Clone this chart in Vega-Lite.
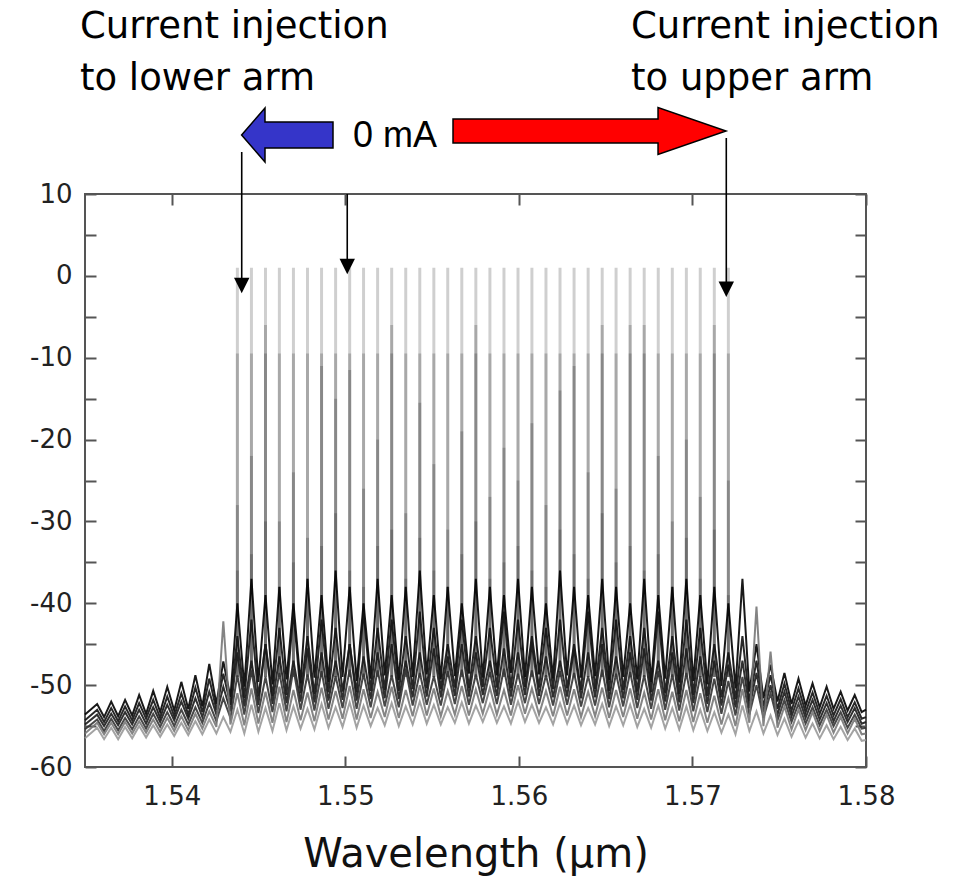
{
"$schema": "https://vega.github.io/schema/vega-lite/v6.json",
"width": 781, "height": 573,
"autosize": {"type": "none"},
"padding": {"left": 85, "top": 194, "right": 95, "bottom": 115},
"background": "white",
"config": {"view": {"stroke": "#555", "strokeWidth": 2}, "font": "DejaVu Sans"},
"resolve": {"axis": {"x": "independent", "y": "independent"}},
"datasets": {
"tall": [
{"w":1.54378,"t1":1,"t2":-9.5,"t3":-28,"t4":-36},
{"w":1.54459,"t1":1,"t2":-9.5,"t3":-22,"t4":-34},
{"w":1.5454,"t1":1,"t2":-9.5,"t3":-6,"t4":-30},
{"w":1.5462,"t1":1,"t2":-9.5,"t3":-30,"t4":-38},
{"w":1.54701,"t1":1,"t2":-9.5,"t3":-24,"t4":-35},
{"w":1.54782,"t1":1,"t2":-9.5,"t3":-32,"t4":-37},
{"w":1.54863,"t1":1,"t2":-9.5,"t3":-11,"t4":-33},
{"w":1.54944,"t1":1,"t2":-9.5,"t3":-15,"t4":-29},
{"w":1.55025,"t1":1,"t2":-9.5,"t3":-11.5,"t4":-36},
{"w":1.55105,"t1":1,"t2":-9.5,"t3":-26,"t4":-38},
{"w":1.55186,"t1":1,"t2":-9.5,"t3":-20,"t4":-33},
{"w":1.55267,"t1":1,"t2":-9.5,"t3":-6,"t4":-31},
{"w":1.55348,"t1":1,"t2":-9.5,"t3":-29,"t4":-37},
{"w":1.55429,"t1":1,"t2":-9.5,"t3":-15.5,"t4":-32},
{"w":1.5551,"t1":1,"t2":-9.5,"t3":-23,"t4":-36},
{"w":1.5559,"t1":1,"t2":-9.5,"t3":-31,"t4":-38},
{"w":1.55671,"t1":1,"t2":-9.5,"t3":-19,"t4":-34},
{"w":1.55752,"t1":1,"t2":-9.5,"t3":-6,"t4":-30},
{"w":1.55833,"t1":1,"t2":-9.5,"t3":-27,"t4":-37},
{"w":1.55914,"t1":1,"t2":-9.5,"t3":-21,"t4":-35},
{"w":1.55995,"t1":1,"t2":-9.5,"t3":-25,"t4":-33},
{"w":1.56075,"t1":1,"t2":-9.5,"t3":-18,"t4":-36},
{"w":1.56156,"t1":1,"t2":-9.5,"t3":-28,"t4":-38},
{"w":1.56237,"t1":1,"t2":-9.5,"t3":-14,"t4":-31},
{"w":1.56318,"t1":1,"t2":-9.5,"t3":-11,"t4":-34},
{"w":1.56399,"t1":1,"t2":-9.5,"t3":-24,"t4":-37},
{"w":1.5648,"t1":1,"t2":-9.5,"t3":-6,"t4":-29},
{"w":1.5656,"t1":1,"t2":-9.5,"t3":-26,"t4":-35},
{"w":1.56641,"t1":1,"t2":-9.5,"t3":-6,"t4":-33},
{"w":1.56722,"t1":1,"t2":-9.5,"t3":-6,"t4":-36},
{"w":1.56803,"t1":1,"t2":-9.5,"t3":-22,"t4":-34},
{"w":1.56884,"t1":1,"t2":-9.5,"t3":-30,"t4":-38},
{"w":1.56965,"t1":1,"t2":-9.5,"t3":-20,"t4":-32},
{"w":1.57045,"t1":1,"t2":-9.5,"t3":-27,"t4":-37},
{"w":1.57126,"t1":1,"t2":-9.5,"t3":-6,"t4":-31},
{"w":1.57207,"t1":1,"t2":-9.5,"t3":-25,"t4":-39}
],
"spec": [
{"w":1.535,"a":-53.6,"b":-54.3,"c":-54.8,"d":-55.4,"e":-55.9,"f":-56.5},
{"w":1.5357,"a":-52.3,"b":-53.0,"c":-53.6,"d":-54.2,"e":-54.6,"f":-55.2},
{"w":1.5361,"a":-53.9,"b":-54.5,"c":-55.0,"d":-55.6,"e":-56.0,"f":-56.6},
{"w":1.53651,"a":-52.0,"b":-52.8,"c":-53.5,"d":-54.1,"e":-54.6,"f":-55.2},
{"w":1.53691,"a":-53.8,"b":-54.4,"c":-54.9,"d":-55.5,"e":-56.0,"f":-56.6},
{"w":1.53731,"a":-51.8,"b":-52.6,"c":-53.3,"d":-54.0,"e":-54.5,"f":-55.1},
{"w":1.53772,"a":-53.7,"b":-54.3,"c":-54.8,"d":-55.4,"e":-55.9,"f":-56.5},
{"w":1.53812,"a":-51.2,"b":-52.2,"c":-53.0,"d":-53.8,"e":-54.4,"f":-55.0},
{"w":1.53852,"a":-53.5,"b":-54.1,"c":-54.7,"d":-55.3,"e":-55.8,"f":-56.4},
{"w":1.53893,"a":-50.7,"b":-51.8,"c":-52.7,"d":-53.5,"e":-54.2,"f":-54.9},
{"w":1.53933,"a":-53.3,"b":-54.0,"c":-54.5,"d":-55.1,"e":-55.7,"f":-56.3},
{"w":1.53974,"a":-50.2,"b":-51.4,"c":-52.4,"d":-53.3,"e":-54.0,"f":-54.8},
{"w":1.54014,"a":-53.1,"b":-53.8,"c":-54.3,"d":-55.0,"e":-55.6,"f":-56.2},
{"w":1.54055,"a":-49.6,"b":-51.0,"c":-52.0,"d":-53.0,"e":-53.8,"f":-54.6},
{"w":1.54095,"a":-52.9,"b":-53.6,"c":-54.1,"d":-54.8,"e":-55.5,"f":-56.1},
{"w":1.54136,"a":-48.8,"b":-50.3,"c":-51.6,"d":-52.7,"e":-53.5,"f":-54.4},
{"w":1.54176,"a":-52.6,"b":-53.3,"c":-53.9,"d":-54.6,"e":-55.3,"f":-56.0},
{"w":1.54216,"a":-47.4,"b":-49.2,"c":-50.8,"d":-52.2,"e":-53.2,"f":-54.2},
{"w":1.54257,"a":-52.3,"b":-53.0,"c":-53.6,"d":-54.4,"e":-55.1,"f":-55.9},
{"w":1.54297,"a":-47.1,"b":-48.6,"c":-50.2,"d":-51.6,"e":-42.2,"f":-53.9},
{"w":1.54338,"a":-51.5,"b":-52.4,"c":-53.2,"d":-54.0,"e":-54.8,"f":-55.7},
{"w":1.54378,"a":-40,"b":-44,"c":-46,"d":-48.8,"e":-51.0,"f":-53.0},
{"w":1.54418,"a":-50.2,"b":-51.6,"c":-52.6,"d":-53.6,"e":-54.9,"f":-55.9},
{"w":1.54459,"a":-37,"b":-42,"c":-47,"d":-48.2,"e":-50.4,"f":-52.4},
{"w":1.54499,"a":-49.6,"b":-51.4,"c":-52.4,"d":-53.4,"e":-54.7,"f":-55.7},
{"w":1.5454,"a":-39,"b":-45,"c":-45,"d":-49.0,"e":-50.8,"f":-52.8},
{"w":1.5458,"a":-49.9,"b":-51.3,"c":-52.3,"d":-53.3,"e":-54.6,"f":-55.6},
{"w":1.5462,"a":-38,"b":-43,"c":-46.5,"d":-48.5,"e":-50.2,"f":-52.2},
{"w":1.54661,"a":-49.3,"b":-51.2,"c":-52.2,"d":-53.2,"e":-54.5,"f":-55.5},
{"w":1.54701,"a":-40,"b":-41,"c":-47,"d":-48.0,"e":-50.6,"f":-52.6},
{"w":1.54742,"a":-49.8,"b":-51.0,"c":-52.0,"d":-53.0,"e":-54.3,"f":-55.3},
{"w":1.54782,"a":-37,"b":-44,"c":-45.5,"d":-48.7,"e":-50.9,"f":-52.9},
{"w":1.54822,"a":-49.1,"b":-51.1,"c":-52.1,"d":-53.1,"e":-54.4,"f":-55.4},
{"w":1.54863,"a":-39,"b":-42,"c":-46,"d":-48.3,"e":-50.3,"f":-52.3},
{"w":1.54903,"a":-49.6,"b":-50.9,"c":-51.9,"d":-52.9,"e":-54.2,"f":-55.2},
{"w":1.54944,"a":-36,"b":-43,"c":-47,"d":-48.9,"e":-50.7,"f":-52.7},
{"w":1.54984,"a":-49.0,"b":-50.8,"c":-51.8,"d":-52.8,"e":-54.1,"f":-55.1},
{"w":1.55025,"a":-38,"b":-45,"c":-45,"d":-48.1,"e":-50.1,"f":-52.1},
{"w":1.55065,"a":-49.5,"b":-50.9,"c":-51.9,"d":-52.9,"e":-54.2,"f":-55.2},
{"w":1.55105,"a":-40,"b":-41,"c":-46.5,"d":-48.6,"e":-50.5,"f":-52.5},
{"w":1.55146,"a":-49.2,"b":-50.7,"c":-51.7,"d":-52.7,"e":-54.0,"f":-55.0},
{"w":1.55186,"a":-37,"b":-43,"c":-46,"d":-48.2,"e":-50.8,"f":-52.8},
{"w":1.55227,"a":-48.8,"b":-50.6,"c":-51.6,"d":-52.6,"e":-53.9,"f":-54.9},
{"w":1.55267,"a":-39,"b":-42,"c":-45,"d":-48.8,"e":-50.2,"f":-52.2},
{"w":1.55308,"a":-49.4,"b":-50.7,"c":-51.7,"d":-52.7,"e":-54.0,"f":-55.0},
{"w":1.55348,"a":-38,"b":-44,"c":-47,"d":-48.0,"e":-50.6,"f":-52.6},
{"w":1.55388,"a":-49.0,"b":-50.5,"c":-51.5,"d":-52.5,"e":-53.8,"f":-54.8},
{"w":1.55429,"a":-36,"b":-41,"c":-46,"d":-48.5,"e":-50.0,"f":-52.0},
{"w":1.55469,"a":-48.7,"b":-50.4,"c":-51.4,"d":-52.4,"e":-53.7,"f":-54.7},
{"w":1.5551,"a":-39,"b":-43,"c":-45.5,"d":-48.9,"e":-50.4,"f":-52.4},
{"w":1.5555,"a":-49.3,"b":-50.5,"c":-51.5,"d":-52.5,"e":-53.8,"f":-54.8},
{"w":1.5559,"a":-38,"b":-45,"c":-46.5,"d":-48.3,"e":-50.7,"f":-52.7},
{"w":1.55631,"a":-48.9,"b":-50.3,"c":-51.3,"d":-52.3,"e":-53.6,"f":-54.6},
{"w":1.55671,"a":-40,"b":-42,"c":-45,"d":-48.1,"e":-50.1,"f":-52.1},
{"w":1.55712,"a":-48.6,"b":-50.4,"c":-51.4,"d":-52.4,"e":-53.7,"f":-54.7},
{"w":1.55752,"a":-37,"b":-44,"c":-46,"d":-48.7,"e":-50.5,"f":-52.5},
{"w":1.55792,"a":-49.1,"b":-50.2,"c":-51.2,"d":-52.2,"e":-53.5,"f":-54.5},
{"w":1.55833,"a":-38,"b":-43,"c":-47,"d":-48.4,"e":-50.3,"f":-52.3},
{"w":1.55873,"a":-48.8,"b":-50.3,"c":-51.3,"d":-52.3,"e":-53.6,"f":-54.6},
{"w":1.55914,"a":-39,"b":-41,"c":-45.5,"d":-48.0,"e":-50.6,"f":-52.6},
{"w":1.55954,"a":-48.5,"b":-50.4,"c":-51.4,"d":-52.4,"e":-53.7,"f":-54.7},
{"w":1.55995,"a":-37,"b":-42,"c":-46,"d":-48.6,"e":-50.0,"f":-52.0},
{"w":1.56035,"a":-49.0,"b":-50.2,"c":-51.2,"d":-52.2,"e":-53.5,"f":-54.5},
{"w":1.56075,"a":-38,"b":-44,"c":-45,"d":-48.2,"e":-50.4,"f":-52.4},
{"w":1.56116,"a":-48.7,"b":-50.3,"c":-51.3,"d":-52.3,"e":-53.6,"f":-54.6},
{"w":1.56156,"a":-40,"b":-43,"c":-46.5,"d":-48.8,"e":-50.7,"f":-52.7},
{"w":1.56197,"a":-49.2,"b":-50.5,"c":-51.5,"d":-52.5,"e":-53.8,"f":-54.8},
{"w":1.56237,"a":-36,"b":-42,"c":-47,"d":-48.3,"e":-50.2,"f":-52.2},
{"w":1.56278,"a":-48.8,"b":-50.4,"c":-51.4,"d":-52.4,"e":-53.7,"f":-54.7},
{"w":1.56318,"a":-38,"b":-45,"c":-45.5,"d":-48.5,"e":-50.5,"f":-52.5},
{"w":1.56358,"a":-49.1,"b":-50.6,"c":-51.6,"d":-52.6,"e":-53.9,"f":-54.9},
{"w":1.56399,"a":-39,"b":-41,"c":-46,"d":-48.9,"e":-50.8,"f":-52.8},
{"w":1.56439,"a":-48.9,"b":-50.5,"c":-51.5,"d":-52.5,"e":-53.8,"f":-54.8},
{"w":1.5648,"a":-37,"b":-43,"c":-45,"d":-48.1,"e":-50.3,"f":-52.3},
{"w":1.5652,"a":-49.4,"b":-50.7,"c":-51.7,"d":-52.7,"e":-54.0,"f":-55.0},
{"w":1.5656,"a":-38,"b":-42,"c":-46.5,"d":-48.6,"e":-50.6,"f":-52.6},
{"w":1.56601,"a":-49.0,"b":-50.6,"c":-51.6,"d":-52.6,"e":-53.9,"f":-54.9},
{"w":1.56641,"a":-40,"b":-44,"c":-46,"d":-48.4,"e":-50.4,"f":-52.4},
{"w":1.56682,"a":-49.3,"b":-50.8,"c":-51.8,"d":-52.8,"e":-54.1,"f":-55.1},
{"w":1.56722,"a":-37,"b":-43,"c":-45.5,"d":-48.8,"e":-50.9,"f":-52.9},
{"w":1.56762,"a":-49.6,"b":-50.9,"c":-51.9,"d":-52.9,"e":-54.2,"f":-55.2},
{"w":1.56803,"a":-39,"b":-41,"c":-47,"d":-48.3,"e":-50.5,"f":-52.5},
{"w":1.56843,"a":-49.2,"b":-51.0,"c":-52.0,"d":-53.0,"e":-54.3,"f":-55.3},
{"w":1.56884,"a":-38,"b":-44,"c":-46,"d":-48.7,"e":-50.8,"f":-52.8},
{"w":1.56924,"a":-49.7,"b":-51.1,"c":-52.1,"d":-53.1,"e":-54.4,"f":-55.4},
{"w":1.56965,"a":-37,"b":-42,"c":-45.5,"d":-48.5,"e":-50.6,"f":-52.6},
{"w":1.57005,"a":-49.5,"b":-51.2,"c":-52.2,"d":-53.2,"e":-54.5,"f":-55.5},
{"w":1.57045,"a":-39,"b":-43,"c":-46.5,"d":-48.9,"e":-51.0,"f":-53.0},
{"w":1.57086,"a":-49.9,"b":-51.3,"c":-52.3,"d":-53.3,"e":-54.6,"f":-55.6},
{"w":1.57126,"a":-38,"b":-45,"c":-47,"d":-49.2,"e":-51.3,"f":-53.3},
{"w":1.57167,"a":-50.1,"b":-51.5,"c":-52.5,"d":-53.5,"e":-54.8,"f":-55.8},
{"w":1.57207,"a":-40,"b":-46,"c":-47.5,"d":-49.5,"e":-51.6,"f":-53.6},
{"w":1.57248,"a":-50.4,"b":-51.7,"c":-52.7,"d":-53.7,"e":-55.0,"f":-56.0},
{"w":1.57288,"a":-37,"b":-44,"c":-47,"d":-49,"e":-50.5,"f":-52.5},
{"w":1.57328,"a":-50.8,"b":-52.0,"c":-52.8,"d":-53.6,"e":-54.6,"f":-55.6},
{"w":1.57369,"a":-45,"b":-47,"c":-48.5,"d":-50,"e":-40.4,"f":-53.2},
{"w":1.57409,"a":-51.6,"b":-52.6,"c":-53.3,"d":-54.0,"e":-55.0,"f":-55.9},
{"w":1.5745,"a":-47.5,"b":-48.8,"c":-50,"d":-51,"e":-45.9,"f":-53.7},
{"w":1.5749,"a":-52.0,"b":-52.9,"c":-53.6,"d":-54.3,"e":-55.2,"f":-56.1},
{"w":1.5753,"a":-48.5,"b":-49.8,"c":-50.8,"d":-51.8,"e":-52.6,"f":-54.1},
{"w":1.57571,"a":-52.3,"b":-53.1,"c":-53.8,"d":-54.5,"e":-55.4,"f":-56.3},
{"w":1.57611,"a":-49.2,"b":-50.4,"c":-51.4,"d":-52.3,"e":-53.0,"f":-54.4},
{"w":1.57652,"a":-52.5,"b":-53.3,"c":-54.0,"d":-54.7,"e":-55.5,"f":-56.4},
{"w":1.57692,"a":-49.8,"b":-50.9,"c":-51.8,"d":-52.7,"e":-53.3,"f":-54.7},
{"w":1.57733,"a":-52.7,"b":-53.5,"c":-54.2,"d":-54.9,"e":-55.6,"f":-56.5},
{"w":1.57773,"a":-50.2,"b":-51.3,"c":-52.2,"d":-53.0,"e":-53.6,"f":-54.9},
{"w":1.57813,"a":-52.9,"b":-53.7,"c":-54.4,"d":-55.0,"e":-55.8,"f":-56.6},
{"w":1.57854,"a":-50.8,"b":-51.7,"c":-52.5,"d":-53.3,"e":-53.9,"f":-55.1},
{"w":1.57894,"a":-53.1,"b":-53.9,"c":-54.5,"d":-55.2,"e":-55.9,"f":-56.7},
{"w":1.57935,"a":-51.2,"b":-52.1,"c":-52.8,"d":-53.6,"e":-54.1,"f":-55.3},
{"w":1.57975,"a":-53.3,"b":-54.1,"c":-54.7,"d":-55.3,"e":-56.0,"f":-56.8},
{"w":1.58,"a":-53.0,"b":-53.9,"c":-54.5,"d":-55.2,"e":-55.9,"f":-56.7}
],
"notes": [
{"w":1.53471,"db":29.06,"txt":"Current injection"},
{"w":1.53471,"db":22.7,"txt":"to lower arm"},
{"w":1.56646,"db":29.06,"txt":"Current injection"},
{"w":1.56646,"db":22.7,"txt":"to upper arm"}
],
"zero": [{"w":1.55044,"db":15.78,"txt":"0 mA"}],
"blue": [{"w":1.546656,"db":17.21}],
"red": [{"w":1.564069,"db":17.7}],
"varrows": [
{"w":1.54403,"y1":15.13,"y2":-1.3,"hy":-1.18},
{"w":1.55011,"y1":10,"y2":1.0,"hy":1.14},
{"w":1.57195,"y1":16.84,"y2":-1.8,"hy":-1.63}
]
},
"layer": [
{
"data": {"name": "tall"},
"transform": [{"fold": ["t1","t2","t3","t4"], "as": ["lvl","top"]}],
"mark": {"type": "rule", "color": "#000", "opacity": 0.19, "strokeWidth": 3},
"encoding": {
"x": {"field": "w", "type": "quantitative", "scale": {"domain": [1.535, 1.58], "nice": false, "zero": false},
 "axis": {"orient": "bottom", "values": [1.54,1.55,1.56,1.57,1.58], "format": ".2f", "labelFlush": false, "tickSize": -11, "tickColor": "#555", "tickWidth": 2, "domain": false, "grid": false, "labelFont": "DejaVu Sans", "labelFontSize": 26, "labelColor": "#222", "labelPadding": 27, "title": "Wavelength (μm)", "titleFont": "DejaVu Sans", "titleFontSize": 40, "titleFontWeight": "normal", "titleColor": "#111", "titlePadding": 25}},
"y": {"field": "top", "type": "quantitative", "scale": {"domain": [-60, 10], "nice": false, "zero": false},
 "axis": {"orient": "left", "values": [-60,-55,-50,-45,-40,-35,-30,-25,-20,-15,-10,-5,0,5,10], "labelExpr": "datum.value % 10 === 0 ? '' + datum.value : ''", "tickSize": -11, "tickColor": "#555", "tickWidth": 2, "domain": false, "grid": false, "labelFont": "DejaVu Sans", "labelFontSize": 26, "labelColor": "#222", "labelPadding": 24, "title": null}},
"y2": {"datum": -49}
}
},
{
"data": {"name": "spec"},
"transform": [{"fold": ["a","b","c","d","e","f"], "as": ["tr","p"]}],
"mark": {"type": "line", "strokeWidth": 2, "opacity": 0.9},
"encoding": {
"x": {"field": "w", "type": "quantitative", "axis": {"orient": "top", "values": [1.54,1.55,1.56,1.57,1.58], "labels": false, "tickSize": -11, "tickColor": "#555", "tickWidth": 2, "domain": false, "grid": false, "title": null}},
"y": {"field": "p", "type": "quantitative", "axis": {"orient": "right", "values": [-60,-55,-50,-45,-40,-35,-30,-25,-20,-15,-10,-5,0,5,10], "labels": false, "tickSize": -11, "tickColor": "#555", "tickWidth": 2, "domain": false, "grid": false, "title": null}},
"color": {"field": "tr", "type": "nominal", "scale": {"domain": ["a","b","c","d","e","f"], "range": ["#000","#111","#1a1a1a","#333","#777","#999"]}, "legend": null},
"detail": {"field": "tr"}
}
},
{
"data": {"name": "notes"},
"mark": {"type": "text", "align": "left", "baseline": "alphabetic", "font": "DejaVu Sans", "fontSize": 37, "color": "#000"},
"encoding": {
"x": {"field": "w", "type": "quantitative", "axis": null},
"y": {"field": "db", "type": "quantitative", "axis": null},
"text": {"field": "txt"}
}
},
{
"data": {"name": "zero"},
"mark": {"type": "text", "align": "left", "baseline": "alphabetic", "font": "Liberation Sans", "fontSize": 36, "color": "#000"},
"encoding": {
"x": {"field": "w", "type": "quantitative", "axis": null},
"y": {"field": "db", "type": "quantitative", "axis": null},
"text": {"field": "txt"}
}
},
{
"data": {"name": "blue"},
"mark": {"type": "point", "filled": true, "shape": "M-1,0L-0.488,-0.591L-0.488,-0.284L1,-0.284L1,0.284L-0.488,0.284L-0.488,0.591Z", "size": 8354, "fill": "#3535c9", "stroke": "#000", "strokeWidth": 1.5, "opacity": 1},
"encoding": {
"x": {"field": "w", "type": "quantitative", "axis": null},
"y": {"field": "db", "type": "quantitative", "axis": null}
}
},
{
"data": {"name": "red"},
"mark": {"type": "point", "filled": true, "shape": "M-1,-0.088L0.502,-0.088L0.502,-0.172L1,0L0.502,0.172L0.502,0.088L-1,0.088Z", "size": 74529, "fill": "#ff0000", "stroke": "#000", "strokeWidth": 1.5, "opacity": 1},
"encoding": {
"x": {"field": "w", "type": "quantitative", "axis": null},
"y": {"field": "db", "type": "quantitative", "axis": null}
}
},
{
"data": {"name": "varrows"},
"mark": {"type": "rule", "color": "#000", "strokeWidth": 1.6},
"encoding": {
"x": {"field": "w", "type": "quantitative", "axis": null},
"y": {"field": "y1", "type": "quantitative", "axis": null},
"y2": {"field": "y2"}
}
},
{
"data": {"name": "varrows"},
"mark": {"type": "point", "filled": true, "shape": "M-1,-1L1,-1L0,1Z", "size": 237, "color": "#000", "opacity": 1},
"encoding": {
"x": {"field": "w", "type": "quantitative", "axis": null},
"y": {"field": "hy", "type": "quantitative", "axis": null}
}
}
]
}
